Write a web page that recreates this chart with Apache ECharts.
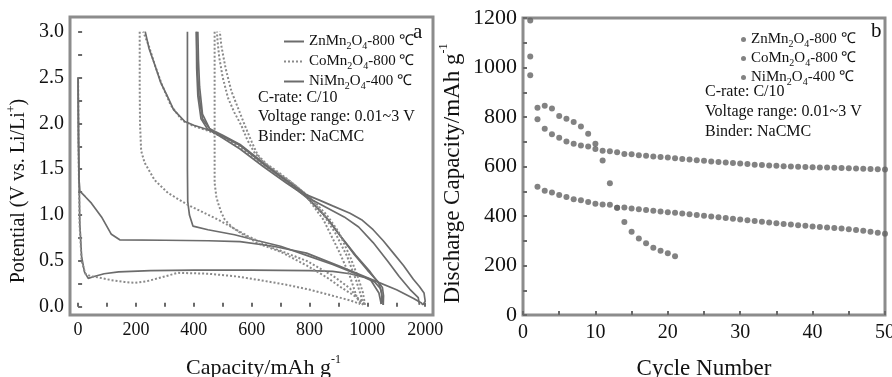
<!DOCTYPE html>
<html>
<head>
<meta charset="utf-8">
<script src="https://cdn.jsdelivr.net/npm/echarts@6/dist/echarts.min.js"></script>
<style>
  html, body { margin: 0; padding: 0; background: #fff; }
  #main { width: 892px; height: 377px; }
</style>
</head>
<body>
<div id="main"></div>
<script>
// ---- panel a : potential vs capacity (pairs are [capacity, potential]) ----
var znDis1 = [[0,2.5],[1,2.1],[3,1.5],[6,0.9],[12,0.55],[22,0.38],[35,0.31],[55,0.33],[90,0.36],[140,0.38],[250,0.395],[400,0.40],[600,0.40],[800,0.395],[880,0.385],[940,0.36],[990,0.32],[1025,0.27],[1045,0.2],[1052,0.1],[1055,0.02]];
var znChg1 = [[1055,0.02],[1056,0.12],[1052,0.21],[1035,0.28],[1000,0.4],[951,0.585],[900,0.8],[859,0.97],[820,1.1],[790,1.2],[720,1.37],[640,1.56],[560,1.76],[500,1.86],[449,1.93],[425,2.05],[414,2.3],[410,2.6],[409,3.0]];
var znDis2 = [[378,3.0],[378,1.5],[379,1.15],[385,1.0],[397,0.88],[449,0.84],[541,0.785],[622,0.72],[700,0.66],[790,0.56],[880,0.46],[960,0.36],[1010,0.3],[1040,0.15],[1048,0.03]];
var znChg2 = [[1048,0.03],[1050,0.15],[1040,0.25],[1010,0.38],[960,0.56],[910,0.76],[870,0.93],[830,1.07],[790,1.19],[720,1.37],[640,1.57],[560,1.77],[500,1.87],[455,1.94],[430,2.1],[420,2.4],[416,2.7],[414,3.0]];
var niDis1 = [[0,2.5],[1,1.8],[3,1.4],[6,1.26],[25,1.2],[46,1.13],[81,0.98],[115,0.79],[144,0.73],[300,0.725],[450,0.72],[560,0.71],[675,0.66],[790,0.585],[905,0.44],[1020,0.29],[1101,0.185],[1160,0.09],[1187,0.04],[1192,0.02]];
var niChg1 = [[1192,0.02],[1200,0.06],[1196,0.15],[1180,0.22],[1159,0.3],[1125,0.45],[1090,0.585],[1055,0.72],[1020,0.84],[980,0.95],[940,1.02],[880,1.1],[836,1.16],[790,1.22],[720,1.38],[640,1.56],[560,1.76],[500,1.86],[449,1.93],[400,1.98],[369,2.02],[330,2.15],[311,2.28],[285,2.45],[265,2.64],[245,2.82],[232,3.0]];
var niChg2 = [[1180,0.02],[1176,0.1],[1147,0.19],[1110,0.33],[1070,0.5],[1020,0.7],[970,0.87],[920,0.98],[860,1.08],[800,1.18],[720,1.35],[640,1.53],[560,1.72],[500,1.84],[460,1.92],[430,2.05],[418,2.3],[412,2.6],[409,3.0]];
var coDis1 = [[0,2.5],[2,1.6],[5,0.9],[12,0.5],[25,0.36],[45,0.33],[70,0.32],[115,0.29],[160,0.27],[196,0.26],[240,0.28],[276,0.31],[345,0.37],[450,0.36],[550,0.33],[629,0.29],[720,0.24],[802,0.185],[880,0.12],[940,0.07],[975,0.03]];
var coChg1 = [[975,0.03],[963,0.11],[940,0.33],[905,0.585],[848,0.95],[790,1.2],[720,1.36],[640,1.55],[560,1.74],[500,1.85],[449,1.92],[400,1.97],[360,2.03],[320,2.2],[290,2.42],[265,2.64],[245,2.84],[225,3.0]];
var coDis2 = [[213,3.0],[213,2.4],[214,2.0],[218,1.7],[230,1.57],[265,1.38],[311,1.24],[380,1.11],[484,0.95],[587,0.77],[675,0.64],[790,0.5],[880,0.34],[940,0.2],[970,0.08],[985,0.02]];
var coChg2 = [[985,0.02],[978,0.12],[960,0.3],[930,0.55],[890,0.8],[845,1.02],[800,1.2],[740,1.35],[680,1.48],[640,1.58],[610,1.68],[585,1.82],[564,1.98],[540,2.12],[518,2.28],[500,2.5],[488,2.72],[482,2.9],[480,3.0]];
var coDis3 = [[472,3.0],[472,2.2],[472,1.68],[472,1.35],[478,1.2],[484,1.13],[495,1.03],[507,0.95],[535,0.86],[564,0.80],[622,0.69],[700,0.6],[790,0.45],[860,0.32],[905,0.22],[950,0.13],[986,0.05],[992,0.02]];
var coChg3 = [[992,0.02],[985,0.15],[968,0.32],[940,0.55],[900,0.82],[860,1.0],[815,1.15],[760,1.3],[700,1.45],[650,1.56],[620,1.66],[600,1.8],[580,1.95],[555,2.15],[530,2.35],[510,2.6],[495,2.85],[490,3.0]];

var capTicks = [0,100,200,300,400,500,600,700,800,900,1000,1100,1200];
var capLabels = [0,200,400,600,800,1000,1200];
var potTicks = [0,0.25,0.5,0.75,1.0,1.25,1.5,1.75,2.0,2.25,2.5,2.75,3.0];
var potLabels = [0,0.5,1.0,1.5,2.0,2.5,3.0];

// ---- panel b : discharge capacity vs cycle ----
var cycles = [];
for (var i = 1; i <= 50; i++) cycles.push(i);
var znCycle = [1044,791,753,730,716,701,692,685,681,671,664,662,658,651,649,645,643,640,638,636,633,630,628,625,623,620,618,616,614,612,610,607,606,604,603,601,600,599,598,597,596,596,595,594,593,592,591,590,589,588];
var coCycle = [969,837,845,834,804,793,780,762,732,692,624,532,433,376,336,309,290,272,260,250,237];
var niCycle = [1190,518,502,495,485,477,468,464,457,450,446,445,433,434,430,427,424,421,418,415,413,410,407,404,401,398,395,392,389,386,383,380,377,374,371,368,366,363,361,358,356,354,352,349,346,343,340,336,332,328];

var FONT = 'Liberation Serif';
var INK = '#111';
var SOLID = '#6c6c6c';
var DOT = '#8a8a8a';

var legendNames = {
  'a-zn': 'ZnMn{s|2}O{s|4}-800 ℃',
  'a-co': 'CoMn{s|2}O{s|4}-800 ℃',
  'a-ni': 'NiMn{s|2}O{s|4}-400 ℃',
  'b-zn': 'ZnMn{s|2}O{s|4}-800 ℃',
  'b-co': 'CoMn{s|2}O{s|4}-800 ℃',
  'b-ni': 'NiMn{s|2}O{s|4}-400 ℃'
};

function curve(name, data, dotted) {
  var c = dotted ? DOT : SOLID;
  return {
    type: 'line', name: name, xAxisIndex: 0, yAxisIndex: 0,
    data: data, symbol: 'none', silent: true,
    itemStyle: {color: c},
    lineStyle: dotted ? {color: c, width: 2, type: 'dotted'} : {color: c, width: 1.7}
  };
}

function pairs(xs, ys) {
  return ys.map(function (v, k) { return [xs[k], v]; });
}

function dots(name, data) {
  return {
    type: 'scatter', name: name, xAxisIndex: 1, yAxisIndex: 1,
    data: data, symbol: 'circle', symbolSize: 6, silent: true,
    itemStyle: {color: '#636363'}
  };
}

var legendText = {
  fontFamily: FONT, fontSize: 15, color: INK, lineHeight: 19,
  rich: {s: {fontFamily: FONT, fontSize: 10, lineHeight: 10, verticalAlign: 'bottom', color: INK}}
};
function nameStyle(size, pad) {
  return {
    fontFamily: FONT, fontSize: size, color: INK, lineHeight: size + 6, padding: pad,
    rich: {sup: {fontFamily: FONT, fontSize: 12, lineHeight: 12, verticalAlign: 'top', color: INK}}
  };
}
var tickStyle = {show: true, inside: true, length: 4, lineStyle: {color: '#6a6a6a', width: 2}};
var minorStyle = {show: true, splitNumber: 2, length: 4, lineStyle: {color: '#6a6a6a', width: 2}};

var chart = echarts.init(document.getElementById('main'));
chart.setOption({
  animation: false,
  backgroundColor: '#fff',
  grid: [
    {left: 70, top: 17, width: 363, height: 298, show: true, borderColor: '#8c8c8c', borderWidth: 3,
      outerBoundsMode: 'none', containLabel: false},
    {left: 523, top: 18, width: 362, height: 297, show: true, borderColor: '#8c8c8c', borderWidth: 3,
      outerBoundsMode: 'none', containLabel: false}
  ],
  xAxis: [
    {
      type: 'value', gridIndex: 0, min: -28, max: 1227,
      splitLine: {show: false}, axisLine: {show: false},
      axisTick: Object.assign({customValues: capTicks}, tickStyle),
      axisLabel: {customValues: capLabels, margin: 6, fontFamily: FONT, fontSize: 18, color: INK,
        formatter: function (v) { return v === 1200 ? '2000' : String(v); }},
      name: 'Capacity/mAh g{sup|-1}', nameLocation: 'middle', nameGap: 39,
      nameTextStyle: nameStyle(22, [0, 0, 0, 24])
    },
    {
      type: 'value', gridIndex: 1, min: 0, max: 50, interval: 10,
      splitLine: {show: false}, axisLine: {show: false},
      axisTick: tickStyle, minorTick: minorStyle,
      axisLabel: {margin: 8, fontFamily: FONT, fontSize: 20, color: INK},
      name: 'Cycle Number', nameLocation: 'middle', nameGap: 39, nameTextStyle: nameStyle(23, 0)
    }
  ],
  yAxis: [
    {
      type: 'value', gridIndex: 0, min: -0.09, max: 3.16,
      splitLine: {show: false}, axisLine: {show: false},
      axisTick: Object.assign({customValues: potTicks}, tickStyle),
      axisLabel: {customValues: potLabels, margin: 6, fontFamily: FONT, fontSize: 20, color: INK,
        formatter: function (v) { return v.toFixed(1); }},
      name: 'Potential (V vs. Li/Li{sup|+})', nameLocation: 'middle', nameGap: 38,
      nameTextStyle: nameStyle(20, [0, 50, 0, 0])
    },
    {
      type: 'value', gridIndex: 1, min: 0, max: 1200, interval: 200,
      splitLine: {show: false}, axisLine: {show: false},
      axisTick: tickStyle, minorTick: minorStyle,
      axisLabel: {margin: 6, fontFamily: FONT, fontSize: 22, color: INK,
        formatter: function (v) { return String(v); }},
      name: 'Discharge Capacity/mAh g{sup|-1}', nameLocation: 'middle', nameGap: 56,
      nameTextStyle: nameStyle(23, [0, 14, 0, 0])
    }
  ],
  legend: [
    {
      data: ['a-zn', 'a-co', 'a-ni'], orient: 'vertical', left: 278, top: 27,
      itemWidth: 20, itemHeight: 10, itemGap: 1, selectedMode: false,
      itemStyle: {opacity: 0},
      formatter: function (n) { return legendNames[n]; }, textStyle: legendText
    },
    {
      data: ['b-zn', 'b-co', 'b-ni'], orient: 'vertical', left: 736, top: 25,
      itemWidth: 5, itemHeight: 5, itemGap: 0, icon: 'circle', selectedMode: false,
      formatter: function (n) { return legendNames[n]; }, textStyle: legendText
    }
  ],
  graphic: [
    {type: 'text', left: 258, top: 90, style: {text: 'C-rate: C/10', font: '16px "Liberation Serif"', fill: INK}},
    {type: 'text', left: 258, top: 109, style: {text: 'Voltage range: 0.01~3 V', font: '16px "Liberation Serif"', fill: INK}},
    {type: 'text', left: 258, top: 129, style: {text: 'Binder: NaCMC', font: '16px "Liberation Serif"', fill: INK}},
    {type: 'text', left: 413, top: 22, style: {text: 'a', font: '21px "Liberation Serif"', fill: INK}},
    {type: 'text', left: 705, top: 84, style: {text: 'C-rate: C/10', font: '16px "Liberation Serif"', fill: INK}},
    {type: 'text', left: 705, top: 104, style: {text: 'Voltage range: 0.01~3 V', font: '16px "Liberation Serif"', fill: INK}},
    {type: 'text', left: 705, top: 124, style: {text: 'Binder: NaCMC', font: '16px "Liberation Serif"', fill: INK}},
    {type: 'text', left: 871, top: 21, style: {text: 'b', font: '21px "Liberation Serif"', fill: INK}}
  ],
  series: [
    curve('a-zn', znDis1, false),
    curve('a-zn', znChg1, false),
    curve('a-zn', znDis2, false),
    curve('a-zn', znChg2, false),
    curve('a-co', coDis1, true),
    curve('a-co', coChg1, true),
    curve('a-co', coDis2, true),
    curve('a-co', coChg2, true),
    curve('a-co', coDis3, true),
    curve('a-co', coChg3, true),
    curve('a-ni', niDis1, false),
    curve('a-ni', niChg1, false),
    curve('a-ni', niChg2, false),
    dots('b-zn', pairs(cycles, znCycle)),
    dots('b-co', pairs(cycles, coCycle)),
    dots('b-ni', pairs(cycles, niCycle))
  ]
});
</script>
</body>
</html>
